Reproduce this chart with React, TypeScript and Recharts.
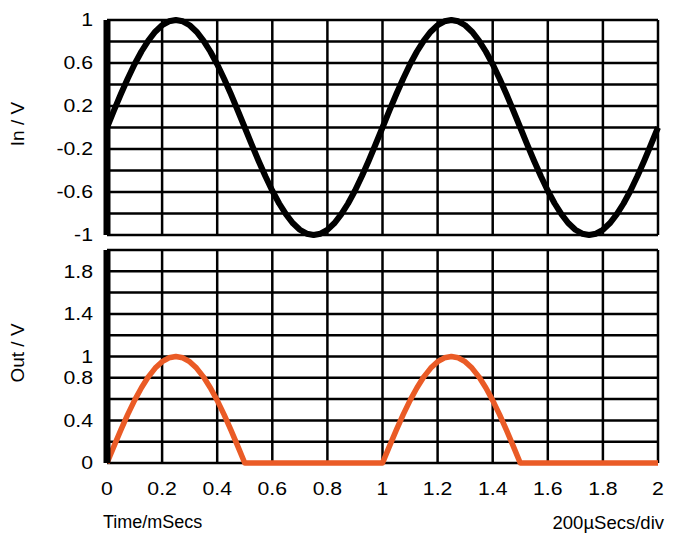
import React from 'react';
import { LineChart, Line, XAxis, YAxis, CartesianGrid } from 'recharts';

// Sample times in milliseconds (2 ms window, 40 samples per ms)
const timeMs = [
  0, 0.025, 0.05, 0.075, 0.1, 0.125, 0.15, 0.175, 0.2, 0.225,
  0.25, 0.275, 0.3, 0.325, 0.35, 0.375, 0.4, 0.425, 0.45, 0.475,
  0.5, 0.525, 0.55, 0.575, 0.6, 0.625, 0.65, 0.675, 0.7, 0.725,
  0.75, 0.775, 0.8, 0.825, 0.85, 0.875, 0.9, 0.925, 0.95, 0.975,
  1, 1.025, 1.05, 1.075, 1.1, 1.125, 1.15, 1.175, 1.2, 1.225,
  1.25, 1.275, 1.3, 1.325, 1.35, 1.375, 1.4, 1.425, 1.45, 1.475,
  1.5, 1.525, 1.55, 1.575, 1.6, 1.625, 1.65, 1.675, 1.7, 1.725,
  1.75, 1.775, 1.8, 1.825, 1.85, 1.875, 1.9, 1.925, 1.95, 1.975,
  2,
];

// Input voltage (1 kHz sine, 1 V peak)
const inputVolts = [
  0, 0.156, 0.309, 0.454, 0.588, 0.707, 0.809, 0.891, 0.951, 0.988,
  1, 0.988, 0.951, 0.891, 0.809, 0.707, 0.588, 0.454, 0.309, 0.156,
  0, -0.156, -0.309, -0.454, -0.588, -0.707, -0.809, -0.891, -0.951, -0.988,
  -1, -0.988, -0.951, -0.891, -0.809, -0.707, -0.588, -0.454, -0.309, -0.156,
  0, 0.156, 0.309, 0.454, 0.588, 0.707, 0.809, 0.891, 0.951, 0.988,
  1, 0.988, 0.951, 0.891, 0.809, 0.707, 0.588, 0.454, 0.309, 0.156,
  0, -0.156, -0.309, -0.454, -0.588, -0.707, -0.809, -0.891, -0.951, -0.988,
  -1, -0.988, -0.951, -0.891, -0.809, -0.707, -0.588, -0.454, -0.309, -0.156,
  0,
];

// Output voltage (half-wave rectified)
const outputVolts = [
  0, 0.156, 0.309, 0.454, 0.588, 0.707, 0.809, 0.891, 0.951, 0.988,
  1, 0.988, 0.951, 0.891, 0.809, 0.707, 0.588, 0.454, 0.309, 0.156,
  0, 0, 0, 0, 0, 0, 0, 0, 0, 0,
  0, 0, 0, 0, 0, 0, 0, 0, 0, 0,
  0, 0.156, 0.309, 0.454, 0.588, 0.707, 0.809, 0.891, 0.951, 0.988,
  1, 0.988, 0.951, 0.891, 0.809, 0.707, 0.588, 0.454, 0.309, 0.156,
  0, 0, 0, 0, 0, 0, 0, 0, 0, 0,
  0, 0, 0, 0, 0, 0, 0, 0, 0, 0,
  0,
];

const timeTicks = [0, 0.2, 0.4, 0.6, 0.8, 1, 1.2, 1.4, 1.6, 1.8, 2];
const inputTicks = [-1, -0.8, -0.6, -0.4, -0.2, 0, 0.2, 0.4, 0.6, 0.8, 1];
const inputTickLabels = [1, 0.6, 0.2, -0.2, -0.6, -1];
const outputTicks = [0, 0.2, 0.4, 0.6, 0.8, 1, 1.2, 1.4, 1.6, 1.8, 2];
const outputTickLabels = [0, 0.4, 0.8, 1, 1.4, 1.8];

const data = timeMs.map((t, i) => ({ t, vin: inputVolts[i], vout: outputVolts[i] }));

const FONT = '"Liberation Sans", Arial, Helvetica, sans-serif';
const gridProps = { stroke: '#000', strokeWidth: 2.5, strokeOpacity: 1 };

// Tick text drawn slightly wide, like the original's lettering
function WideTick(props: any) {
  const { x, y, payload, textAnchor, labels, vertical } = props;
  const v = payload?.value;
  if (labels && !labels.includes(v)) return null;
  return (
    <text
      transform={`translate(${x},${y}) scale(1.18,1)`}
      textAnchor={textAnchor}
      dy={vertical ? '0.36em' : '0.71em'}
      fontSize={18}
      fontFamily={FONT}
      fill="#000"
    >
      {String(v)}
    </text>
  );
}

export default function App() {
  return (
    <div style={{ position: 'absolute', left: 0, top: 0, width: 677, height: 550, background: '#fff' }}>
      <div style={{ position: 'absolute', left: 0, top: 0 }}>
        <LineChart width={677} height={250} data={data} margin={{ top: 20, right: 19, bottom: 15, left: 0 }}>
          <CartesianGrid {...gridProps} />
          <XAxis
            dataKey="t"
            type="number"
            domain={[0, 2]}
            ticks={timeTicks}
            interval={0}
            tick={(p: any) => <WideTick {...p} labels={[]} />}
            tickLine={false}
            axisLine={false}
            height={0}
          />
          <YAxis
            type="number"
            domain={[-1, 1]}
            ticks={inputTicks}
            interval={0}
            width={107}
            tickLine={false}
            tickMargin={8}
            tick={(p: any) => <WideTick {...p} labels={inputTickLabels} vertical />}
            axisLine={{ stroke: '#000', strokeWidth: 7 }}
          />
          <Line
            dataKey="vin"
            type="linear"
            stroke="#000"
            strokeWidth={6}
            dot={false}
            isAnimationActive={false}
            strokeLinejoin="round"
          />
        </LineChart>
      </div>
      <div style={{ position: 'absolute', left: 0, top: 230 }}>
        <LineChart width={677} height={320} data={data} margin={{ top: 20, right: 19, bottom: 57, left: 0 }}>
          <CartesianGrid {...gridProps} />
          <XAxis
            dataKey="t"
            type="number"
            domain={[0, 2]}
            ticks={timeTicks}
            interval={0}
            tickLine={false}
            axisLine={false}
            tickMargin={13}
            tick={(p: any) => <WideTick {...p} />}
            height={30}
          />
          <YAxis
            type="number"
            domain={[0, 2]}
            ticks={outputTicks}
            interval={0}
            width={107}
            tickLine={false}
            tickMargin={8}
            tick={(p: any) => <WideTick {...p} labels={outputTickLabels} vertical />}
            axisLine={{ stroke: '#000', strokeWidth: 7 }}
          />
          <Line
            dataKey="vout"
            type="linear"
            stroke="#EA5B26"
            strokeWidth={5.5}
            dot={false}
            isAnimationActive={false}
            strokeLinejoin="round"
          />
        </LineChart>
      </div>
      <svg
        width={677}
        height={550}
        style={{ position: 'absolute', left: 0, top: 0, pointerEvents: 'none' }}
        fontFamily={FONT}
        fill="#000"
      >
        <text x={24} y={124} fontSize={19} textAnchor="middle" transform="rotate(-90 24 124)">
          In / V
        </text>
        <text x={24} y={353} fontSize={19} textAnchor="middle" transform="rotate(-90 24 353)">
          Out / V
        </text>
        <text x={103} y={528} fontSize={18}>
          Time/mSecs
        </text>
        <text x={664} y={529} fontSize={18.5} textAnchor="end">
          200µSecs/div
        </text>
      </svg>
    </div>
  );
}
